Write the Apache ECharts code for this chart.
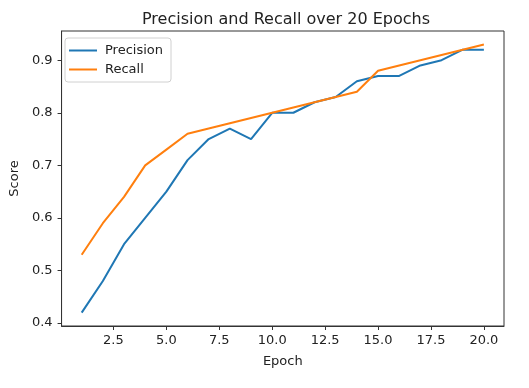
<!DOCTYPE html>
<html>
<head>
<meta charset="utf-8">
<script src="https://cdn.jsdelivr.net/npm/echarts@6/dist/echarts.min.js"></script>
<style>
html,body{margin:0;padding:0;background:#fff;}
#chart{width:529px;height:388px;}
</style>
</head>
<body>
<div id="chart"></div>
<script>
const epochs = [1,2,3,4,5,6,7,8,9,10,11,12,13,14,15,16,17,18,19,20];
const precision = [0.42,0.48,0.55,0.60,0.65,0.71,0.75,0.77,0.75,0.80,0.80,0.82,0.83,0.86,0.87,0.87,0.89,0.90,0.92,0.92];
const recall = [0.53,0.59,0.64,0.70,0.73,0.76,0.77,0.78,0.79,0.80,0.81,0.82,0.83,0.84,0.88,0.89,0.90,0.91,0.92,0.93];
const xTicks = [2.5,5.0,7.5,10.0,12.5,15.0,17.5,20.0];
const yTicks = [0.4,0.5,0.6,0.7,0.8,0.9];

const font = 'DejaVu Sans';
const chart = echarts.init(document.getElementById('chart'), null, {renderer:'canvas'});
const pData = epochs.map((e,i)=>[e, precision[i]]);
const rData = epochs.map((e,i)=>[e, recall[i]]);
chart.setOption({
  animation:false,
  backgroundColor:'#fff',
  title:{
    text:'Precision and Recall over 20 Epochs',
    left:281, top:7, textAlign:'center',
    textStyle:{fontFamily:font,fontSize:16,fontWeight:'normal',color:'#222'}
  },
  legend:{
    orient:'vertical', left:65, top:38,
    data:['Precision','Recall'],
    icon:'rect', itemWidth:28, itemHeight:2, itemGap:6,
    padding:[6,8,6,4],
    borderColor:'#d0d0d0', borderWidth:1, borderRadius:3,
    backgroundColor:'rgba(255,255,255,0.8)',
    textStyle:{fontFamily:font,fontSize:13,color:'#222',padding:[0,0,0,3]}
  },
  grid:{left:58,right:25,top:31,bottom:62,show:true,borderColor:'#333',borderWidth:1,backgroundColor:'transparent'},
  xAxis:{
    type:'value', min:0.05, max:20.95,
    name:'Epoch', nameLocation:'middle', nameGap:29,
    nameTextStyle:{fontFamily:font,fontSize:13,color:'#222'},
    splitLine:{show:false},
    axisLine:{show:true,lineStyle:{color:'#333'}},
    axisTick:{show:true,length:4,lineStyle:{color:'#333'},customValues:xTicks},
    axisLabel:{fontFamily:font,fontSize:13,color:'#222',margin:8,customValues:xTicks,formatter:v=>v.toFixed(1)}
  },
  yAxis:{
    type:'value', min:0.3945, max:0.9555,
    name:'Score', nameLocation:'middle', nameGap:40, nameRotate:90,
    nameTextStyle:{fontFamily:font,fontSize:13,color:'#222'},
    splitLine:{show:false},
    axisLine:{show:true,lineStyle:{color:'#333'}},
    axisTick:{show:true,length:4,lineStyle:{color:'#333'},customValues:yTicks},
    axisLabel:{fontFamily:font,fontSize:13,color:'#222',margin:9,customValues:yTicks,formatter:v=>v.toFixed(1)}
  },
  series:[
    {name:'Precision',type:'line',data:pData,showSymbol:false,symbol:'none',color:'#1f77b4',lineStyle:{width:2,color:'#1f77b4'}},
    {name:'Recall',type:'line',data:rData,showSymbol:false,symbol:'none',color:'#ff7f0e',lineStyle:{width:2,color:'#ff7f0e'}}
  ]
});
</script>
</body>
</html>
